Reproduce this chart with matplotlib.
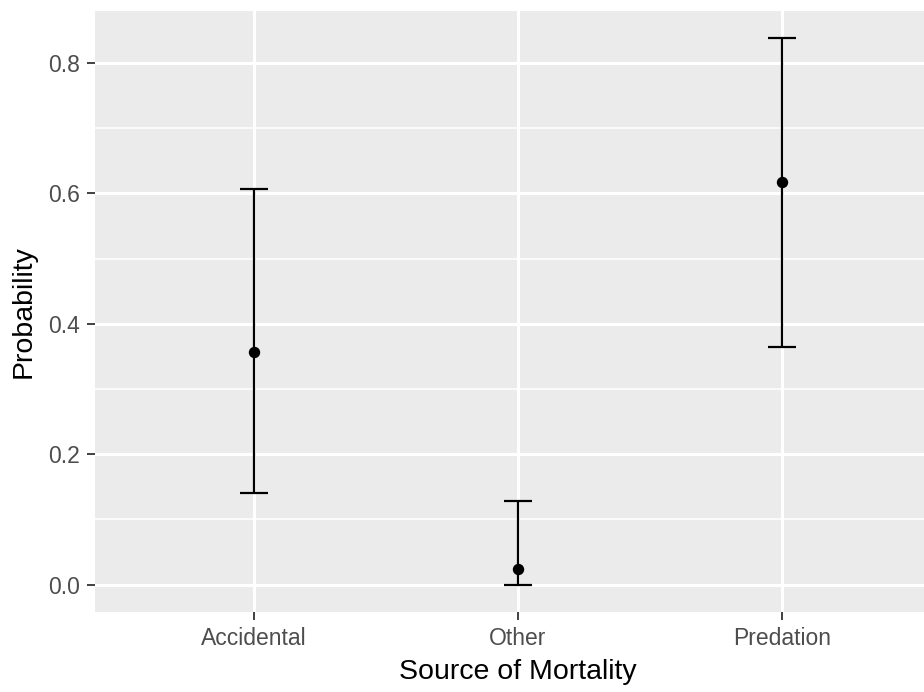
import matplotlib
matplotlib.use("Agg")
import matplotlib.pyplot as plt
import numpy as np

# estimated probability of each mortality source, with CI bounds
sources = ["Accidental", "Other", "Predation"]
prob = [0.356, 0.0245, 0.617]
lower = [0.141, 0.0, 0.364]
upper = [0.607, 0.128, 0.838]

plt.rcParams["font.family"] = ["Liberation Sans", "DejaVu Sans"]

W, H = 924, 692
fig = plt.figure(figsize=(W / 100, H / 100), dpi=100)
# panel runs past the right edge, as in the reference crop
ax = fig.add_axes([95 / W, 80 / H, (940.5 - 95) / W, (612 - 10.7) / H])

ax.set_facecolor("#EBEBEB")
for s in ax.spines.values():
    s.set_visible(False)

x = np.arange(1, len(sources) + 1)
p = np.array(prob)
lo = np.array(lower)
hi = np.array(upper)

ax.set_xlim(0.4, 3.6)
span = hi.max() - lo.min()
ax.set_ylim(lo.min() - 0.05 * span, hi.max() + 0.05 * span)

# grid
ax.set_yticks([0.0, 0.2, 0.4, 0.6, 0.8])
ax.set_yticks([0.1, 0.3, 0.5, 0.7], minor=True)
ax.set_xticks(x)
ax.set_xticklabels(sources)
ax.grid(True, which="major", color="white", linewidth=2.2)
ax.grid(True, which="minor", axis="y", color="white", linewidth=1.1)
ax.set_axisbelow(True)

ax.errorbar(x, p, yerr=[p - lo, hi - p], fmt="none", ecolor="black",
            elinewidth=1.6, capsize=0, zorder=3)
# caps 0.1 wide in data units
ax.hlines(lo, x - 0.053, x + 0.053, color="black", linewidth=1.6, zorder=3)
ax.hlines(hi, x - 0.053, x + 0.053, color="black", linewidth=1.6, zorder=3)
ax.plot(x, p, "o", color="black", markersize=7.2, zorder=4)

ax.tick_params(axis="both", which="major", length=6, width=1.3, color="#333333",
               labelcolor="#4D4D4D", labelsize=16.5, pad=5)
ax.tick_params(axis="both", which="minor", length=0)
ax.yaxis.set_major_formatter(matplotlib.ticker.FormatStrFormatter("%.1f"))

ax.set_xlabel("Source of Mortality", fontsize=20.5, color="black", labelpad=6)
ax.set_ylabel("Probability", fontsize=20.5, color="black", labelpad=8)

fig.savefig("out.png", dpi=100)
